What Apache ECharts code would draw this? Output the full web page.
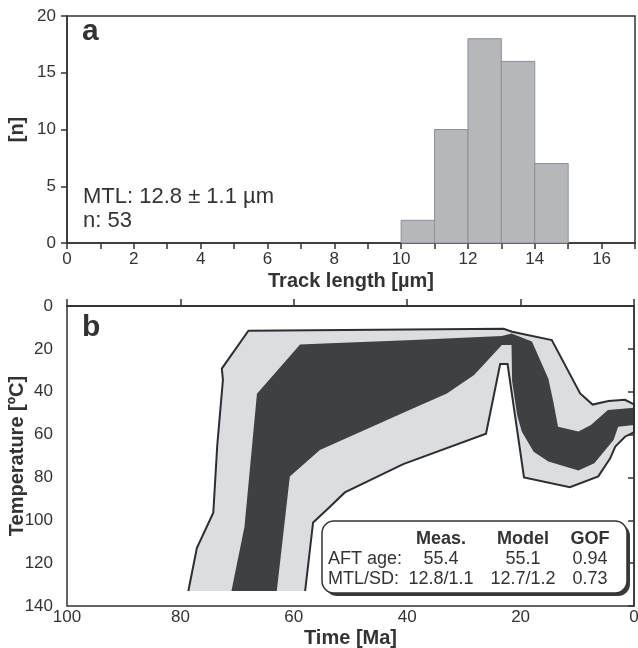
<!DOCTYPE html>
<html>
<head>
<meta charset="utf-8">
<script src="https://cdn.jsdelivr.net/npm/echarts@6/dist/echarts.min.js"></script>
<style>
  html, body { margin: 0; padding: 0; background: #fff; }
  #chart { width: 638px; height: 648px; }
</style>
</head>
<body>
<div id="chart"></div>
<script>
// ---- (a) track length histogram ----
const binStarts = [10, 11, 12, 13, 14];      // µm, bin width 1
const binCounts = [2, 10, 18, 16, 7];
const histXTicks = [0, 2, 4, 6, 8, 10, 12, 14, 16];
const histYTicks = [0, 5, 10, 15, 20];

// ---- (b) thermal history envelopes: [time Ma, temperature °C] ----
const acceptableEnvelope = [
  [78.6, 133], [77.1, 113], [74.2, 96.5], [73.5, 65], [72.5, 34.5], [72.7, 29.2],
  [68.0, 11.5], [23.0, 10.6], [21.5, 12], [14.5, 15.9], [9.5, 40.8], [7.3, 46],
  [4.5, 44.3], [1.6, 43.8], [0, 45.9], [0, 58.8], [0.4, 59.4], [1.6, 61],
  [3.3, 65.6], [4.2, 71.1], [6.3, 79.5], [11.3, 84.6], [19.4, 80], [22.3, 27.1],
  [23.6, 27.1], [26.1, 59.6], [40.7, 73.8], [51.0, 87], [53.9, 94.4], [56.6, 101],
  [58.0, 133]
];
const goodEnvelope = [
  [71.0, 133], [68.7, 103], [67.6, 72], [66.5, 41], [58.9, 18], [53.6, 17.4],
  [40, 16], [23.3, 14], [21.6, 12.8], [18.0, 16.6], [15.1, 34], [14.2, 45],
  [13.4, 56.3], [9.8, 58.6], [7.6, 55.5], [4.6, 48.5], [0, 47.5], [0, 55.5],
  [2.8, 56.3], [3.6, 62.5], [7.0, 73.4], [9.8, 76.8], [15.1, 72.6], [17.7, 68],
  [19.8, 58.6], [20.6, 51], [21.5, 35], [21.6, 18.2], [23.3, 18.2], [28.2, 32.2],
  [33.0, 40.8], [40, 49], [55.4, 67.2], [60.7, 79.6], [63.0, 133]
];
const timeTicks = [100, 80, 60, 40, 20, 0];
const tempTicks = [0, 20, 40, 60, 80, 100, 120, 140];

// ---- model summary table ----
const tableHeader = ['Meas.', 'Model', 'GOF'];
const tableRows = [
  ['AFT age:', '55.4', '55.1', '0.94'],
  ['MTL/SD:', '12.8/1.1', '12.7/1.2', '0.73']
];

const FONT = '"Liberation Sans", Arial, Helvetica, sans-serif';
const INK = '#333333';

const histData = binStarts.map((s, i) => [s, s + 1, binCounts[i]]);

function polygonRenderer(points, style, asLine) {
  return function (params, api) {
    if (params.dataIndex !== 0) return null;
    const pts = points.map(p => api.coord(p));
    return {
      type: asLine ? 'polyline' : 'polygon',
      shape: { points: pts },
      style: style,
      silent: true
    };
  };
}

const chart = echarts.init(document.getElementById('chart'), null, { renderer: 'canvas' });

const axisTitle = { fontFamily: FONT, fontSize: 20, fontWeight: 'bold', color: INK };
const tickLabel = { fontFamily: FONT, fontSize: 17, color: INK };

// summary box text elements
const tableCols = [441, 523, 590];
const tableGraphics = [];
tableHeader.forEach((h, i) => {
  tableGraphics.push({
    type: 'text', x: tableCols[i], y: 530, z: 12,
    style: { text: h, font: 'bold 18px ' + FONT, fill: INK, align: 'center', verticalAlign: 'top' }
  });
});
tableRows.forEach((row, r) => {
  const y = 550 + r * 20;
  tableGraphics.push({
    type: 'text', x: 328, y: y, z: 12,
    style: { text: row[0], font: '18px ' + FONT, fill: INK, align: 'left', verticalAlign: 'top' }
  });
  for (let c = 1; c < row.length; c++) {
    tableGraphics.push({
      type: 'text', x: tableCols[c - 1], y: y, z: 12,
      style: { text: row[c], font: '18px ' + FONT, fill: INK, align: 'center', verticalAlign: 'top' }
    });
  }
});

const option = {
  backgroundColor: '#ffffff',
  animation: false,
  grid: [
    { left: 67, right: 3, top: 16, height: 227, show: true, borderColor: INK, borderWidth: 1.5,
      backgroundColor: 'transparent', containLabel: false, outerBoundsMode: 'none' },
    { left: 67, right: 4, top: 306, height: 300, show: true, borderColor: INK, borderWidth: 1.5,
      backgroundColor: 'transparent', containLabel: false, outerBoundsMode: 'none' }
  ],
  xAxis: [
    {
      type: 'value', gridIndex: 0, min: 0, max: 17, interval: 1,
      name: 'Track length [µm]', nameLocation: 'middle', nameGap: 28, nameTextStyle: axisTitle,
      nameMoveOverlap: false,
      axisLine: { lineStyle: { color: INK, width: 1.5 } },
      axisTick: { inside: false, length: 6, lineStyle: { color: INK, width: 1.5 } },
      axisLabel: Object.assign({ margin: 8, formatter: v => histXTicks.includes(v) ? String(v) : '' }, tickLabel),
      splitLine: { show: false }
    },
    {
      type: 'value', gridIndex: 1, min: 0, max: 100, interval: 20, inverse: true, position: 'bottom',
      name: 'Time [Ma]', nameLocation: 'middle', nameGap: 22, nameTextStyle: axisTitle,
      nameMoveOverlap: false,
      axisLine: { lineStyle: { color: INK, width: 1.5 } },
      axisTick: { inside: true, length: 6, lineStyle: { color: INK, width: 1.5 } },
      axisLabel: Object.assign({ margin: 3, formatter: v => timeTicks.includes(v) ? String(v) : '' }, tickLabel),
      splitLine: { show: false }
    },
    {
      type: 'value', gridIndex: 1, min: 0, max: 100, interval: 20, inverse: true, position: 'top',
      axisLine: { lineStyle: { color: INK, width: 1.5 } },
      axisTick: { inside: false, length: 7, lineStyle: { color: INK, width: 1.5 } },
      axisLabel: { show: false },
      splitLine: { show: false }
    }
  ],
  yAxis: [
    {
      type: 'value', gridIndex: 0, min: 0, max: 20, interval: 5,
      name: '[n]', nameLocation: 'middle', nameGap: 40, nameTextStyle: axisTitle,
      nameMoveOverlap: false,
      axisLine: { show: true, lineStyle: { color: INK, width: 1.5 } },
      axisTick: { show: true, inside: false, length: 6, lineStyle: { color: INK, width: 1.5 } },
      axisLabel: Object.assign({ margin: 11, formatter: v => histYTicks.includes(v) ? String(v) : '' }, tickLabel),
      splitLine: { show: false }
    },
    {
      type: 'value', gridIndex: 1, min: 0, max: 140, interval: 20, inverse: true,
      name: 'Temperature [ºC]', nameLocation: 'middle', nameGap: 40, nameTextStyle: axisTitle,
      nameMoveOverlap: false,
      axisLine: { show: true, lineStyle: { color: INK, width: 1.5 } },
      axisTick: { show: true, inside: false, length: 6, lineStyle: { color: INK, width: 1.5 } },
      axisLabel: Object.assign({ margin: 14, formatter: v => tempTicks.includes(v) ? String(v) : '' }, tickLabel),
      splitLine: { show: false }
    }
  ],
  series: [
    {
      type: 'custom', xAxisIndex: 0, yAxisIndex: 0,
      data: histData,
      encode: { x: [0, 1], y: 2 },
      renderItem: function (params, api) {
        const top = api.coord([api.value(0), api.value(2)]);
        const base = api.coord([api.value(1), 0]);
        return {
          type: 'rect',
          shape: { x: top[0], y: top[1], width: base[0] - top[0], height: base[1] - top[1] },
          style: { fill: '#b6b7bb', stroke: '#909195', lineWidth: 1 }
        };
      },
      z: 3
    },
    {
      type: 'custom', xAxisIndex: 1, yAxisIndex: 1, data: acceptableEnvelope,
      encode: { x: 0, y: 1 },
      renderItem: polygonRenderer(acceptableEnvelope, { fill: '#dcdde0' }, false),
      z: 1
    },
    {
      type: 'custom', xAxisIndex: 1, yAxisIndex: 1, data: goodEnvelope,
      encode: { x: 0, y: 1 },
      renderItem: polygonRenderer(goodEnvelope, { fill: '#3f4043' }, false),
      z: 2
    },
    {
      type: 'custom', xAxisIndex: 1, yAxisIndex: 1, data: acceptableEnvelope,
      encode: { x: 0, y: 1 },
      renderItem: polygonRenderer(acceptableEnvelope, { fill: null, stroke: '#2e2e30', lineWidth: 2, lineJoin: 'miter' }, true),
      z: 3
    }
  ],
  graphic: [
    { type: 'text', x: 82, y: 17, z: 10, style: { text: 'a', font: 'bold 30px ' + FONT, fill: INK, verticalAlign: 'top' } },
    { type: 'text', x: 82, y: 313, z: 10, style: { text: 'b', font: 'bold 30px ' + FONT, fill: INK, verticalAlign: 'top' } },
    { type: 'text', x: 83, y: 186, z: 10, style: { text: 'MTL: 12.8 ± 1.1 µm', font: '22px ' + FONT, fill: INK, verticalAlign: 'top' } },
    { type: 'text', x: 83, y: 210, z: 10, style: { text: 'n: 53', font: '22px ' + FONT, fill: INK, verticalAlign: 'top' } },
    {
      type: 'rect', z: 10,
      shape: { x: 325, y: 524, width: 305, height: 72, r: 12 },
      style: { fill: '#3a3a3a' }
    },
    {
      type: 'rect', z: 11,
      shape: { x: 322, y: 521, width: 305, height: 72, r: 12 },
      style: { fill: '#ffffff', stroke: INK, lineWidth: 1.5 }
    }
  ].concat(tableGraphics)
};

chart.setOption(option);
</script>
</body>
</html>
